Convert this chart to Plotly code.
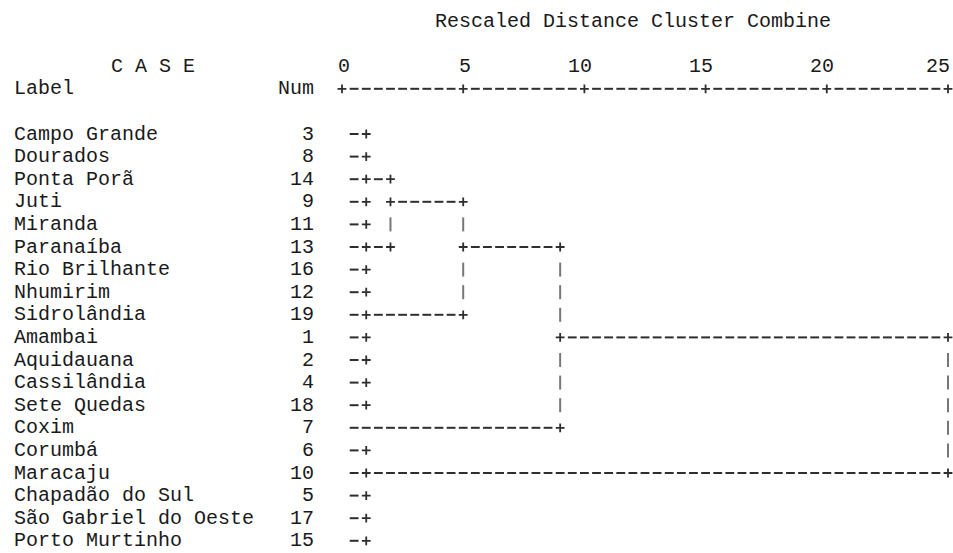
import plotly.graph_objects as go

# ---- data -------------------------------------------------------------
case_labels = [
    "Campo Grande", "Dourados", "Ponta Porã", "Juti", "Miranda",
    "Paranaíba", "Rio Brilhante", "Nhumirim", "Sidrolândia", "Amambai",
    "Aquidauana", "Cassilândia", "Sete Quedas", "Coxim", "Corumbá",
    "Maracaju", "Chapadão do Sul", "São Gabriel do Oeste", "Porto Murtinho",
]
case_nums = [3, 8, 14, 9, 11, 13, 16, 12, 19, 1, 2, 4, 18, 7, 6, 10, 5, 17, 15]

# rescaled distance where each case's own stub ends
leaf_join = [1, 1, 1, 1, 1, 1, 1, 1, 1, 1, 1, 1, 1, 9, 1, 1, 1, 1, 1]

# horizontal links (row, from distance, to distance)
link_rows = [2, 5, 3, 8, 5, 9, 15]
link_from = [1, 1, 2, 1, 5, 9, 1]
link_to = [2, 2, 5, 5, 9, 25, 25]

# vertical links (distance, first row, last row)
vert_x = [2, 5, 9, 25]
vert_top = [2, 3, 5, 9]
vert_bottom = [5, 8, 13, 15]

axis_ticks = [0, 5, 10, 15, 20, 25]
title_text = "Rescaled Distance Cluster Combine"

# ---- layout constants ---------------------------------------------------
STEP = 0.5                 # one character cell in distance units
PX_PER_UNIT = 24.24
X0_PX = 342.0
ROW0_PX = 134.0
ROW_PX = 22.6
W, H = 953, 553

def xd(px):
    return (px - X0_PX) / PX_PER_UNIT

def xp(x):
    return X0_PX + x * PX_PER_UNIT

def yd(px):
    return (px - ROW0_PX) / ROW_PX

TITLE_ROW, TICK_ROW, AXIS_ROW = -5, -3, -2
FONT = "Liberation Mono"
FS = 20
INK = "#1a1a1a"

# ---- build glyph positions from the tree ------------------------------
def half_steps(a, b):
    """positions strictly between a and b on the character grid"""
    out = []
    k = int(round(a / STEP)) + 1
    while k * STEP < b - 1e-9:
        out.append(k * STEP)
        k += 1
    return out

plus = set()
dashes = []
for r, end in enumerate(leaf_join):
    for x in half_steps(0, end):
        dashes.append((x, r))
    plus.add((float(end), r))
for r, a, b in zip(link_rows, link_from, link_to):
    plus.add((float(a), r))
    plus.add((float(b), r))
    for x in half_steps(a, b):
        dashes.append((x, r))
for x, t, b in zip(vert_x, vert_top, vert_bottom):
    plus.add((float(x), t))
    plus.add((float(x), b))
bars = []
for x, t, b in zip(vert_x, vert_top, vert_bottom):
    for r in range(t + 1, b):
        if (float(x), r) not in plus:
            bars.append((x, r))

# axis row: "+---------+---------+ ..."
axis_dashes = [x for x in half_steps(axis_ticks[0], axis_ticks[-1])
               if abs(x / 5 - round(x / 5)) > 1e-9]

fig = go.Figure()

def glyph_trace(pts, symbol, size, width, color):
    fig.add_trace(go.Scatter(
        x=[p[0] for p in pts], y=[p[1] for p in pts], mode="markers",
        marker=dict(symbol=symbol, size=size, color=color,
                    line=dict(width=width, color=color)),
        hoverinfo="skip", showlegend=False))

glyph_trace(dashes + [(x, AXIS_ROW) for x in axis_dashes],
            "line-ew", 6.3, 2.0, "#2e2e2e")
glyph_trace(bars, "line-ns", 10, 2.0, "#777777")
glyph_trace(sorted(plus) + [(float(t), AXIS_ROW) for t in axis_ticks],
            "cross-thin", 6.3, 1.8, "#2e2e2e")

ann = []
def text(x, y, s, anchor, xshift=0):
    ann.append(dict(x=x, y=y, xref="x", yref="y", text=s, showarrow=False,
                    xanchor=anchor, yanchor="middle", xshift=xshift,
                    font=dict(family=FONT, size=FS, color=INK)))

text(xd(433), TITLE_ROW, title_text, "left")
text(xd(109), TICK_ROW, "C A S E", "left")
text(xd(12), AXIS_ROW, "Label", "left")
text(xd(316), AXIS_ROW, "Num", "right")
for t in axis_ticks:
    # last digit sits on the tick's column; keep the final label inside
    text(t, TICK_ROW, str(t), "right", xshift=min(9.5, W - 1 - xp(t)))
for i, (lab, num) in enumerate(zip(case_labels, case_nums)):
    text(xd(12), i, lab, "left")
    text(xd(316), i, str(num), "right")

fig.update_layout(
    width=W, height=H, autosize=False,
    margin=dict(l=0, r=0, t=0, b=0, pad=0),
    paper_bgcolor="white", plot_bgcolor="white",
    showlegend=False, annotations=ann,
    xaxis=dict(range=[xd(0), xd(W)], visible=False, fixedrange=True),
    yaxis=dict(range=[yd(H), yd(0)], visible=False, fixedrange=True),
)

fig.write_html("out.html")
